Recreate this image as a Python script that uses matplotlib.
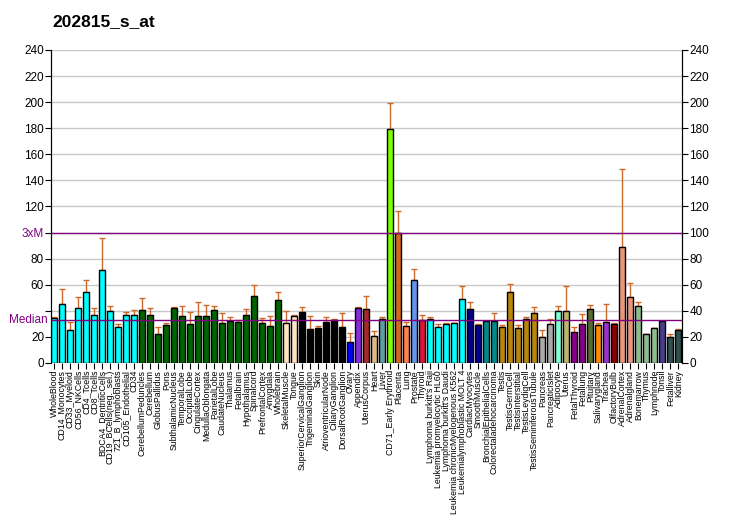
import matplotlib.pyplot as plt
import numpy as np

# ---- data ----
labels = [
    "WholeBlood", "CD14_Monocytes", "CD33_Myeloid", "CD56_NKCells", "CD4_Tcells",
    "CD8_Tcells", "BDCA4_DentriticCells", "CD19_BCells(neg._sel.)", "721_B_lymphoblasts",
    "CD105_Endothelial", "CD34", "CerebellumPeduncles", "Cerebellum", "GlobusPallidus",
    "Pons", "SubthalamicNucleus", "TemporalLobe", "OccipitalLobe", "CingulateCortex",
    "MedullaOblongata", "ParietalLobe", "CaudateNucleus", "Thalamus", "Fetalbrain",
    "Hypothalamus", "Spinalcord", "PrefrontalCortex", "Amygdala", "Wholebrain",
    "SkeletalMuscle", "Tongue", "SuperiorCervicalGanglion", "TrigeminalGanglion", "Skin",
    "AtrioventricularNode", "CiliaryGanglion", "DorsalRootGanglion", "Ovary", "Appendix",
    "UterusCorpus", "Heart", "Liver", "CD71_Early Erythroid", "Placenta", "Lung",
    "Prostate", "Thyroid", "Lymphoma burkitt's Raji", "Leukemia promyelocytic HL60",
    "Lymphoma burkitt's Daudi", "Leukemia chronicMyelogenous K562",
    "Leukemialymphoblastic MOLT 4", "CardiacMyocytes", "SmoothMuscle",
    "BronchialEpithelialCells", "Colorectaladenocarcinoma", "Testis", "TestisGermCell",
    "TestisInterstitial", "TestisLeydigCell", "TestisSeminiferousTubule", "Pancreas",
    "PancreaticIslet", "Adipocyte", "Uterus", "FetalThyroid", "Fetallung", "Pituitary",
    "Salivarygland", "Trachea", "OlfactoryBulb", "AdrenalCortex", "Adrenalgland",
    "Bonemarrow", "Thymus", "Lymphnode", "Tonsil", "Fetalliver", "Kidney",
]

values = [
    34.6, 45.1, 25.1, 42.0, 54.4, 36.7, 71.3, 39.7, 27.7, 36.7,
    36.7, 40.5, 36.7, 22.0, 29.0, 42.0, 35.9, 29.7, 35.9, 35.9,
    40.5, 30.5, 32.0, 31.3, 36.7, 51.3, 30.5, 28.2, 48.2, 30.5,
    35.9, 39.0, 25.9, 26.7, 31.3, 32.8, 27.4, 15.9, 42.0, 41.3,
    20.5, 33.6, 179.7, 99.7, 28.2, 63.6, 32.8, 33.6, 27.4, 29.7,
    30.5, 49.0, 41.3, 29.0, 32.0, 32.0, 27.4, 54.4, 26.7, 33.6,
    38.2, 19.7, 29.7, 39.7, 39.7, 23.6, 29.7, 41.3, 29.0, 31.3,
    30.0, 89.0, 50.5, 43.6, 22.0, 26.7, 32.0, 19.7, 25.1,
]

err_top = [
    35.1, 56.7, 31.8, 50.5, 63.8, 42.0, 95.9, 43.6, 29.7, 39.0,
    40.5, 49.7, 42.0, 27.4, 30.5, 42.8, 43.6, 39.0, 46.7, 44.4,
    43.6, 38.2, 35.1, 33.3, 41.3, 59.7, 34.4, 35.9, 54.4, 39.7,
    36.7, 42.8, 35.9, 28.2, 35.1, 33.6, 38.2, 22.8, 42.8, 51.3,
    24.4, 35.1, 199.0, 116.7, 31.3, 72.0, 36.7, 35.1, 29.7, 30.5,
    30.5, 59.0, 46.7, 29.7, 32.0, 38.2, 29.0, 60.5, 29.0, 35.1,
    42.8, 25.1, 33.6, 43.6, 59.0, 27.4, 37.4, 44.4, 30.5, 45.1,
    30.5, 148.8, 61.0, 46.7, 22.0, 26.7, 32.0, 22.0, 25.9,
]

colors = (
    ["#00FFFF"] * 11 + ["#006400"] * 18 + ["#FFE4C4"] * 2 + ["#000000"] * 6
    + ["#0000FF", "#8A2BE2", "#A52A2A", "#DEB887", "#5F9EA0", "#7FFF00",
       "#D2691E", "#FF7F50", "#6495ED", "#DC143C"]
    + ["#00FFFF"] * 5 + ["#00008B"] * 2 + ["#008B8B"] * 2 + ["#B8860B"] * 5
    + ["#A9A9A9"] * 2
    + ["#7FFFD4", "#BDB76B", "#8B008B", "#8B008B", "#556B2F", "#FF8C00",
       "#9932CC", "#8B0000", "#E9967A", "#E9967A"]
    + ["#8FBC8F"] * 3 + ["#483D8B"] + ["#2F4F4F"] * 2
)

median = 33.3
three_xm = 100

# ---- figure ----
plt.rcParams['font.family'] = ['Liberation Sans', 'DejaVu Sans']
fig = plt.figure(figsize=(7.32, 5.30), dpi=100)
ax = fig.add_axes([0.0697, 0.3151, 0.8624, 0.5906])

x = np.arange(len(values))
vals = np.array(values)
upper = np.array(err_top) - vals

# error bars sit behind the bars, so only the upper whisker shows
ax.errorbar(x, vals, yerr=[np.zeros_like(upper), upper], fmt='none',
            ecolor='#CC6A2C', elinewidth=1, capsize=2.2, capthick=1, zorder=2)
ax.bar(x, vals, width=0.75, color=colors, edgecolor='black', linewidth=1, zorder=3)

for yy in range(20, 241, 20):
    ax.axhline(yy, color='#C8C8C8', linewidth=1, zorder=0)
ax.axhline(three_xm, color='#800080', linewidth=1, zorder=4)
ax.axhline(median, color='#800080', linewidth=1, zorder=4)

ax.set_xlim(-0.42, len(values) - 0.5)
ax.set_ylim(0, 240)

yt = list(range(0, 241, 20))
ylab = [str(v) for v in yt]
ylab[yt.index(40)] = ""
ylab[yt.index(100)] = "3xM"
ax.set_yticks(yt)
ax.set_yticklabels(ylab, fontsize=8.5)
for t in ax.get_yticklabels():
    if t.get_text() == "3xM":
        t.set_color('#800080')
ax.text(-0.42, median, "Median ", color='#800080', fontsize=8.5,
        ha='right', va='center')

ax2 = ax.twinx()
ax2.set_ylim(0, 240)
ax2.set_yticks(yt)
ax2.set_yticklabels([str(v) for v in yt], fontsize=8.5)

ax.set_xticks(x)
ax.set_xticklabels(labels, rotation=90, fontsize=6.3)
ax.tick_params(axis='x', length=4, pad=1)
ax.tick_params(axis='y', length=4, pad=1)
ax2.tick_params(axis='y', length=4, pad=1)

for a in (ax, ax2):
    a.spines['top'].set_visible(False)
    a.spines['bottom'].set_visible(False)

fig.text(0.072, 0.96, "202815_s_at", fontsize=12.5, fontweight='bold', ha='left', va='center')

fig.savefig("out.png", dpi=100)
